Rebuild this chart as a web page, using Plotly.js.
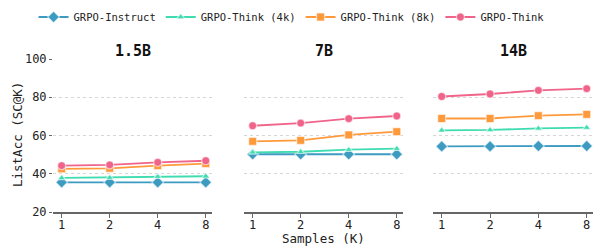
<!DOCTYPE html>
<html><head><meta charset="utf-8">
<script src="https://cdn.plot.ly/plotly-3.0.1.min.js"></script>
<style>body{margin:0;background:#fff}#chart{width:595px;height:246px}</style>
</head><body><div id="chart"></div>
<script>
const samples = ['1','2','4','8'];
const panels = ['1.5B','7B','14B'];
const seriesNames = ['GRPO-Instruct','GRPO-Think (4k)','GRPO-Think (8k)','GRPO-Think'];
// values per panel: [1.5B, 7B, 14B]
const instruct = [[35.5,35.5,35.5,35.5],[50.2,50.2,50.2,50.2],[54.3,54.3,54.5,54.5]];
const think4k  = [[37.8,38.0,38.5,38.7],[51.2,51.5,52.6,53.1],[62.7,62.9,63.7,64.1]];
const think8k  = [[42.6,42.8,44.2,45.3],[56.9,57.4,60.3,62.0],[68.9,68.9,70.4,71.0]];
const think    = [[44.2,44.6,46.0,46.8],[65.1,66.5,68.8,70.2],[80.4,81.7,83.6,84.5]];
const yTicks = [20,40,60,80,100];
const xTitle = 'Samples (K)';
const yTitle = 'ListAcc (SC@K)';

const allSeries = [instruct, think4k, think8k, think];
const colors = ['#3d9bc2','#3fdcb0','#ff9a3c','#f0648a'];
const symbols = ['diamond','triangle-up','square','circle'];
const sizes = [9,7,8,8];
const mono = 'DejaVu Sans Mono, monospace';

const traces = [];
for (let p = 0; p < panels.length; p++) {
  for (let s = 0; s < allSeries.length; s++) {
    traces.push({
      type: 'scatter', mode: 'lines+markers',
      x: samples, y: allSeries[s][p],
      xaxis: p === 0 ? 'x' : 'x' + (p + 1),
      yaxis: p === 0 ? 'y' : 'y' + (p + 1),
      name: seriesNames[s], legendgroup: seriesNames[s], showlegend: p === 0,
      line: {color: colors[s], width: 1.8},
      marker: {symbol: symbols[s], size: sizes[s], color: colors[s],
               line: {color: 'rgba(255,255,255,0.6)', width: 1.2}}
    });
  }
}

const W = 595, PH = 153;
const doms = [[53/W, 212/W],[244/W, 403/W],[433/W, 593/W]];
const ann = panels.map((t, i) => ({
  text: t, xref: 'paper', yref: 'paper',
  x: (doms[i][0] + doms[i][1]) / 2, y: (212 - 51) / PH,
  xanchor: 'center', yanchor: 'middle', showarrow: false,
  font: {family: mono, size: 15, weight: 'bold', color: '#111'}
}));
ann.push({text: xTitle, xref: 'paper', yref: 'paper',
  x: (doms[1][0] + doms[1][1]) / 2, y: (212 - 238.5) / PH,
  xanchor: 'center', yanchor: 'middle', showarrow: false,
  font: {family: mono, size: 12.5, color: '#222'}});
ann.push({text: yTitle, xref: 'paper', yref: 'paper', textangle: -90,
  x: 17 / W, y: (212 - 135) / PH,
  xanchor: 'center', yanchor: 'middle', showarrow: false,
  font: {family: mono, size: 12.5, color: '#222'}});

const layout = {
  width: 595, height: 246,
  margin: {l: 0, r: 0, t: 59, b: 34},
  paper_bgcolor: '#fff', plot_bgcolor: '#fff',
  font: {family: mono, size: 12, color: '#222'},
  showlegend: true,
  legend: {orientation: 'h', x: 0.49, xanchor: 'center', y: (212 - 17) / PH, yanchor: 'middle',
           font: {family: mono, size: 10.5, color: '#222'}, bgcolor: 'rgba(0,0,0,0)'},
  annotations: ann
};
for (let p = 0; p < 3; p++) {
  const xs = p === 0 ? 'xaxis' : 'xaxis' + (p + 1);
  const ys = p === 0 ? 'yaxis' : 'yaxis' + (p + 1);
  layout[xs] = {
    domain: doms[p], type: 'category', range: [-0.18, 3.13],
    anchor: p === 0 ? 'y' : 'y' + (p + 1),
    showline: true, linecolor: '#666', linewidth: 2,
    ticks: 'outside', ticklen: 4, tickcolor: '#666', tickwidth: 1,
    ticklabelstandoff: -3,
    showgrid: false, zeroline: false,
    tickfont: {family: mono, size: 12, color: '#222'}
  };
  layout[ys] = {
    anchor: p === 0 ? 'x' : 'x' + (p + 1),
    range: [20, 100], tickvals: yTicks, ticktext: yTicks.map(String),
    showgrid: true, gridcolor: '#d6d6d6', griddash: 'dot', gridwidth: 1,
    zeroline: false, showline: false,
    showticklabels: p === 0,
    ticks: p === 0 ? 'outside' : '', ticklen: 3, tickcolor: '#666',
    tickfont: {family: mono, size: 12, color: '#222'}
  };
}

Plotly.newPlot('chart', traces, layout, {displayModeBar: false, staticPlot: true});
</script></body></html>
